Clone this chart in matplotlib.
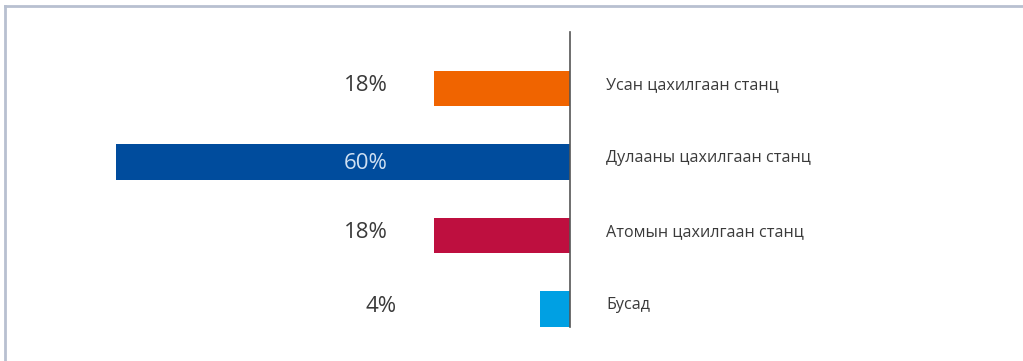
import matplotlib.pyplot as plt
from matplotlib.lines import Line2D

plt.rcParams['font.family'] = ['Open Sans', 'DejaVu Sans']

categories = ["Усан цахилгаан станц", "Дулааны цахилгаан станц",
              "Атомын цахилгаан станц", "Бусад"]
values = [18, 60, 18, 4]
value_labels = ["18%", "60%", "18%", "4%"]
colors = ["#F06400", "#004C9D", "#BE0F3F", "#00A0E3"]

fig = plt.figure(figsize=(10.23, 3.61), dpi=100)
ax = fig.add_axes([116 / 1023, 34 / 361, 454 / 1023, 295 / 361])

ypos = list(range(len(values)))
ax.barh(ypos, [-v for v in values], height=0.48, color=colors)

for y, v, lab, cat in zip(ypos, values, value_labels, categories):
    # value label left of the bar, or inside it when the bar is long
    if v > 40:
        ax.text(-27, y + 0.02, lab, ha='center', va='center', fontsize=16,
                color='#CFE0F2')
    else:
        xl = -27 if v >= 10 else -25
        ax.text(xl, y - 0.04, lab, ha='center', va='center', fontsize=16,
                color='#3A3A3A')
    ax.text(4.75, y - 0.05, cat, ha='left', va='center', fontsize=11.6,
            color='#3A3A3A', clip_on=False)

ax.set_xlim(-60, 0)
ax.set_ylim(3.245, -0.77)
for s in ['left', 'top', 'bottom']:
    ax.spines[s].set_visible(False)
ax.spines['right'].set_color('#555555')
ax.spines['right'].set_linewidth(1.2)
ax.set_xticks([])
ax.set_yticks([])

# thin frame along the top and left edge
fig.add_artist(Line2D([5 / 1023, 1], [1 - 6 / 361, 1 - 6 / 361],
                      color='#B8C0D0', lw=2))
fig.add_artist(Line2D([5 / 1023, 5 / 1023], [0, 1 - 6 / 361],
                      color='#B8C0D0', lw=2))

fig.savefig('out.png', dpi=100, facecolor='white')
